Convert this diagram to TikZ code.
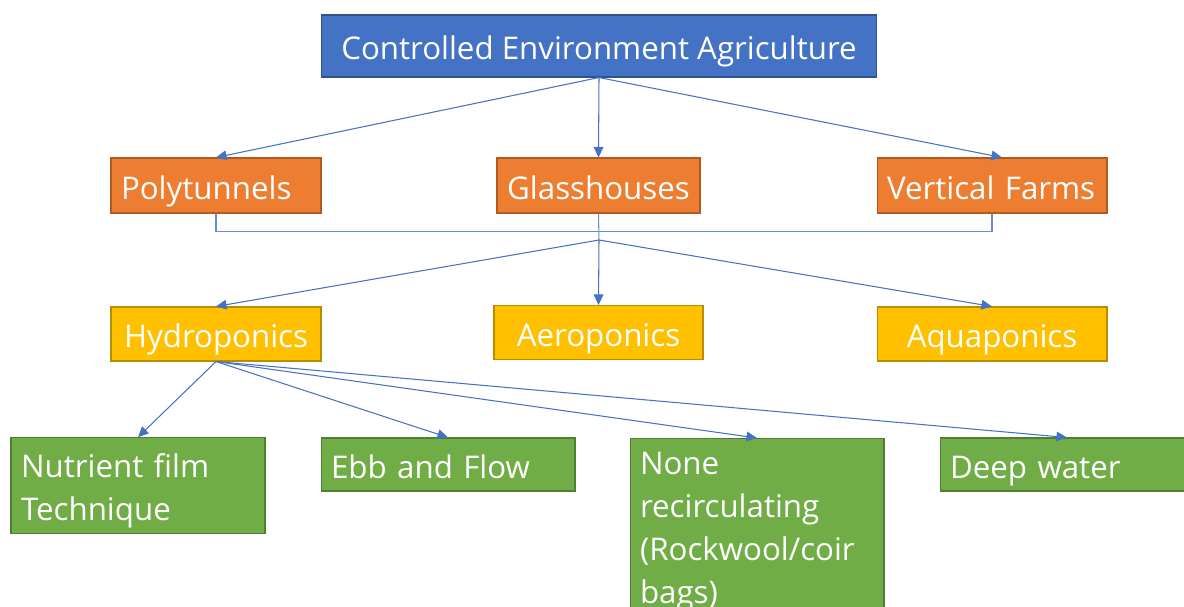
\documentclass[tikz,border=0pt]{standalone}
\usepackage{fontspec}
\setmainfont{Open Sans}
\usepackage{tikz}
\usetikzlibrary{arrows.meta}

\definecolor{ceablue}{HTML}{4472C4}
\definecolor{ceablueline}{HTML}{2F528F}
\definecolor{typeorange}{HTML}{ED7D31}
\definecolor{typeorangeline}{HTML}{AE5A21}
\definecolor{methodyellow}{HTML}{FFC000}
\definecolor{methodyellowline}{HTML}{BC8C00}
\definecolor{hydrogreen}{HTML}{70AD47}
\definecolor{hydrogreenline}{HTML}{507E32}

\begin{document}
\begin{tikzpicture}[
      x=0.02cm, y=-0.02cm,
      font=\fontsize{17.8}{24.5}\selectfont,
      every node/.style={draw, text=white, line width=0.6pt, inner xsep=0.2cm, inner ysep=0.1cm},
      oneline/.style={text height=17pt, text depth=1.6pt},
      topbox/.style={fill=ceablue, draw=ceablueline, minimum width=11.12cm, minimum height=1.24cm, oneline},
      typebox/.style={fill=typeorange, draw=typeorangeline, minimum height=1.1cm, align=left, oneline},
      methodbox/.style={fill=methodyellow, draw=methodyellowline, minimum height=1.08cm, align=left, oneline},
      hydrobox/.style={fill=hydrogreen, draw=hydrogreenline, text width=4.68cm, align=left},
      arrow/.style={-{Triangle[length=6pt,width=5.5pt]}, draw=ceablue, line width=0.6pt},
      link/.style={draw=ceablue!80, line width=0.6pt}
  ]
  \useasboundingbox (0,0) rectangle (1184,606);
  \clip (0,0) rectangle (1184,606);

  % Nodes ------------------------------------------------
  \node[topbox] (cea) at (599,46) {Controlled Environment Agriculture};

  \node[typebox, text width=3.8cm]  (poly)  at (216,185.5)   {Polytunnels};
  \node[typebox, text width=3.66cm, align=center] (glass) at (598.5,185.5) {Glasshouses};
  \node[typebox, text width=4.2cm]  (vert)  at (992,185.5)   {Vertical Farms};

  \node[methodbox, text width=3.8cm, align=center]  (hydro) at (216,334)     {Hydroponics};
  \node[methodbox, text width=3.78cm, align=center] (aero)  at (598.5,332.5) {Aeroponics};
  \node[methodbox, text width=4.2cm, align=center]  (aqua)  at (992,334)     {Aquaponics};

  \node[hydrobox, minimum height=1.9cm, text height=20pt] (nft) at (138,485.5) {Nutrient film\\Technique};
  \node[hydrobox, minimum height=1.06cm, oneline] (ebb)  at (448,464.5) {Ebb and Flow};
  \node[hydrobox, anchor=north, inner ysep=0.06cm, text height=10.5pt, minimum height=3.8cm] (none) at (757,438)
        {None\\recirculating\\(Rockwool/coir\\bags)};
  \node[hydrobox, minimum height=1.06cm, oneline] (deep) at (1067,464.5) {Deep water};

  \coordinate (split) at (599,240);

  % Arrows ------------------------------------------------
  \draw[arrow] (cea.south) -- (poly.north);
  \draw[arrow] (cea.south) -- (glass.north);
  \draw[arrow] (cea.south) -- ([xshift=0.2cm]vert.north);

  \draw[link] (poly.south) -- ++(0,18) -| (vert.south);   % joins the three types
  \draw[link] (glass.south) -- (split);

  \draw[arrow] (split) -- (hydro.north);
  \draw[arrow] (split) -- (aero.north);
  \draw[arrow] (split) -- (aqua.north);

  \draw[arrow] (hydro.south) -- (nft.north);
  \draw[arrow] (hydro.south) -- (ebb.north);
  \draw[arrow] (hydro.south) -- (none.north);
  \draw[arrow] (hydro.south) -- (deep.north);
\end{tikzpicture}
\end{document}
